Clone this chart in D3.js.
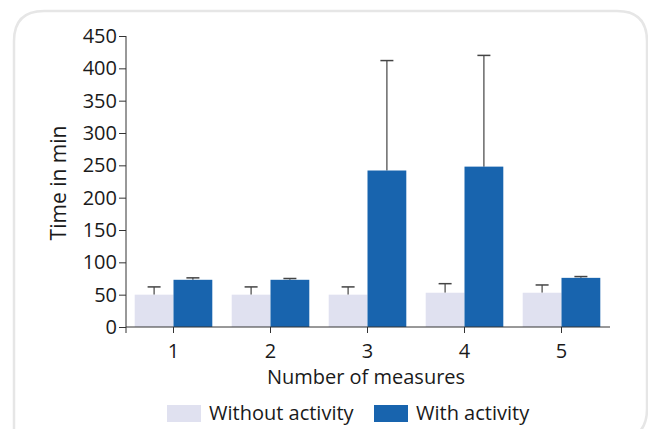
<!DOCTYPE html>
<html>
<head>
<meta charset="utf-8">
<script src="https://cdn.jsdelivr.net/npm/d3@7"></script>
<style>
  body { margin: 0; background: #fff; }
  text { font-family: "Open Sans", sans-serif; fill: #1a1a1a; }
</style>
</head>
<body>
<svg width="648" height="429"></svg>
<script>
// values
var measures = ['1', '2', '3', '4', '5'];
var withoutActivity = [50, 50, 50, 53, 53];
var withoutError = [62, 62, 62, 67, 65];   // top of error bar
var withActivity = [73, 73, 242, 248, 76];
var withError = [76, 75, 412, 420, 78];
var yTicks = [0, 50, 100, 150, 200, 250, 300, 350, 400, 450];
var seriesNames = ['Without activity', 'With activity'];
var colors = ['#e0e1f0', '#1864ae'];

var svg = d3.select('svg');

// card frame, rounded at three corners
svg.append('path')
    .attr('d', 'M14,440 L14,41 Q14,11 44,11 L617,11 Q647,11 647,41 L647,409 Q647,439 617,439')
    .attr('fill', 'none')
    .attr('stroke', '#e6e6e6')
    .attr('stroke-width', 2.5);

var x = d3.scaleBand().domain(measures).range([125, 610]).paddingInner(0.2).paddingOuter(0.1);
var sub = d3.scaleBand().domain([0, 1]).range([0, x.bandwidth()]);
var y = d3.scaleLinear().domain([0, 450]).range([327, 36]);

var rows = measures.map((m, i) => ({
    m: m,
    vals: [
        {s: 0, v: withoutActivity[i], e: withoutError[i]},
        {s: 1, v: withActivity[i], e: withError[i]}
    ]
}));

var groups = svg.append('g')
    .selectAll('g')
    .data(rows)
    .enter()
    .append('g')
    .attr('transform', d => 'translate(' + x(d.m) + ',0)');

var cells = groups.selectAll('g')
    .data(d => d.vals)
    .enter()
    .append('g');

// error bars first, bars drawn on top
cells.append('line')
    .attr('x1', d => sub(d.s) + sub.bandwidth() / 2)
    .attr('x2', d => sub(d.s) + sub.bandwidth() / 2)
    .attr('y1', d => y(d.v))
    .attr('y2', d => y(d.e))
    .attr('stroke', '#444')
    .attr('stroke-width', 1.2);

cells.append('line')
    .attr('x1', d => sub(d.s) + sub.bandwidth() / 2 - 6.5)
    .attr('x2', d => sub(d.s) + sub.bandwidth() / 2 + 6.5)
    .attr('y1', d => y(d.e))
    .attr('y2', d => y(d.e))
    .attr('stroke', '#444')
    .attr('stroke-width', 1.5);

cells.append('rect')
    .attr('x', d => sub(d.s))
    .attr('width', sub.bandwidth())
    .attr('y', d => y(d.v))
    .attr('height', d => y(0) - y(d.v))
    .attr('fill', d => colors[d.s]);

// axes
var yAxis = svg.append('g')
    .attr('transform', 'translate(126,0)')
    .call(d3.axisLeft(y).tickValues(yTicks).tickSize(7).tickPadding(2).tickSizeOuter(0));
yAxis.select('.domain').attr('d', 'M0,' + y(450) + 'V333');

var xAxis = svg.append('g')
    .attr('transform', 'translate(0,327)')
    .call(d3.axisBottom(x).tickSize(6).tickPadding(11).tickSizeOuter(0));
xAxis.select('.domain').attr('d', 'M126,0H610');

svg.selectAll('.tick line, .domain').attr('stroke', '#333');
svg.selectAll('.tick text').style('font-size', '20px').attr('fill', '#1a1a1a');

svg.append('text')
    .attr('transform', 'translate(66,183) rotate(-90)')
    .attr('text-anchor', 'middle')
    .style('font-size', '21px')
    .text('Time in min');

svg.append('text')
    .attr('x', 366)
    .attr('y', 384)
    .attr('text-anchor', 'middle')
    .style('font-size', '20px')
    .text('Number of measures');

// legend
var legendX = [167, 374];
var legend = svg.append('g')
    .selectAll('g')
    .data(seriesNames)
    .enter()
    .append('g')
    .attr('transform', (d, i) => 'translate(' + legendX[i] + ',405)');

legend.append('rect')
    .attr('width', 34)
    .attr('height', 17)
    .attr('fill', (d, i) => colors[i]);

legend.append('text')
    .attr('x', 42)
    .attr('y', 15)
    .style('font-size', '20px')
    .text(d => d);
</script>
</body>
</html>
